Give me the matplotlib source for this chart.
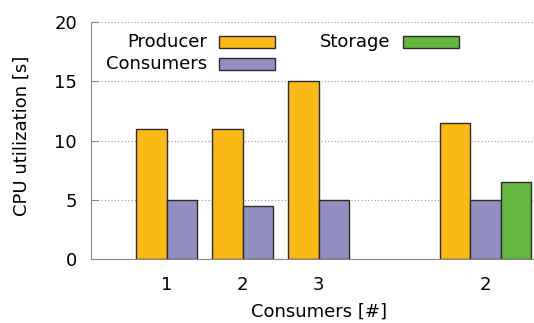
import matplotlib.pyplot as plt
from matplotlib.patches import Rectangle

# CPU time per role, grouped by number of consumers
groups = ['1', '2', '3', '2']
producer = [11, 11, 15, 11.5]
consumers = [5, 4.5, 5, 5]
storage = [6.5]  # only the last setup has a storage node

centers = [1, 2, 3, 5.19]
w = 0.4

c_prod = '#FBB917'
c_cons = '#948FC2'
c_stor = '#65B641'
edge = '#2b2b2b'
fs = 13

plt.rcParams['font.family'] = 'DejaVu Sans'
fig = plt.figure(figsize=(5.34, 3.23), dpi=100)
ax = fig.add_axes([0.170, 0.198, 0.830, 0.734])

for i, c in enumerate(centers):
    if i < 3:
        xp, xc = c - w / 2, c + w / 2
    else:
        xp, xc = c - w, c
    ax.bar(xp, producer[i], w, color=c_prod, edgecolor=edge, linewidth=1, zorder=3)
    ax.bar(xc, consumers[i], w, color=c_cons, edgecolor=edge, linewidth=1, zorder=3)
ax.bar(centers[3] + w, storage[0], w, color=c_stor, edgecolor=edge, linewidth=1, zorder=3)

ax.set_xlim(0, 5.83)
ax.set_ylim(0, 20)
ax.set_yticks([0, 5, 10, 15, 20])
ax.set_xticks(centers)
ax.set_xticklabels(groups)
ax.tick_params(axis='x', length=0, pad=12, labelsize=fs)
ax.tick_params(axis='y', direction='in', length=5, color='#888888', pad=10, labelsize=fs)

for s in ['top', 'right']:
    ax.spines[s].set_visible(False)
for s in ['left', 'bottom']:
    ax.spines[s].set_color('#888888')
ax.yaxis.grid(True, linestyle=(0, (1, 2)), color='#999999', linewidth=0.8)
ax.set_axisbelow(True)

fig.text(22 / 534, 1 - 136 / 323, 'CPU utilization [s]', rotation=90,
         ha='center', va='center', fontsize=fs)
fig.text(319 / 534, 1 - 312 / 323, 'Consumers [#]', ha='center', va='center', fontsize=fs)

# gnuplot-style key: text right-aligned, swatch after it
tr = ax.transAxes
def key(xt, xs, y, label, color):
    ax.text(xt, y, label, transform=tr, ha='right', va='center', fontsize=fs)
    ax.add_patch(Rectangle((xs, y - 0.024), 0.127, 0.048, transform=tr,
                           facecolor=color, edgecolor=edge, linewidth=1, clip_on=False))

key(0.262, 0.289, 0.916, 'Producer', c_prod)
key(0.262, 0.289, 0.823, 'Consumers', c_cons)
key(0.677, 0.704, 0.916, 'Storage', c_stor)

fig.savefig('out.png', dpi=100)
